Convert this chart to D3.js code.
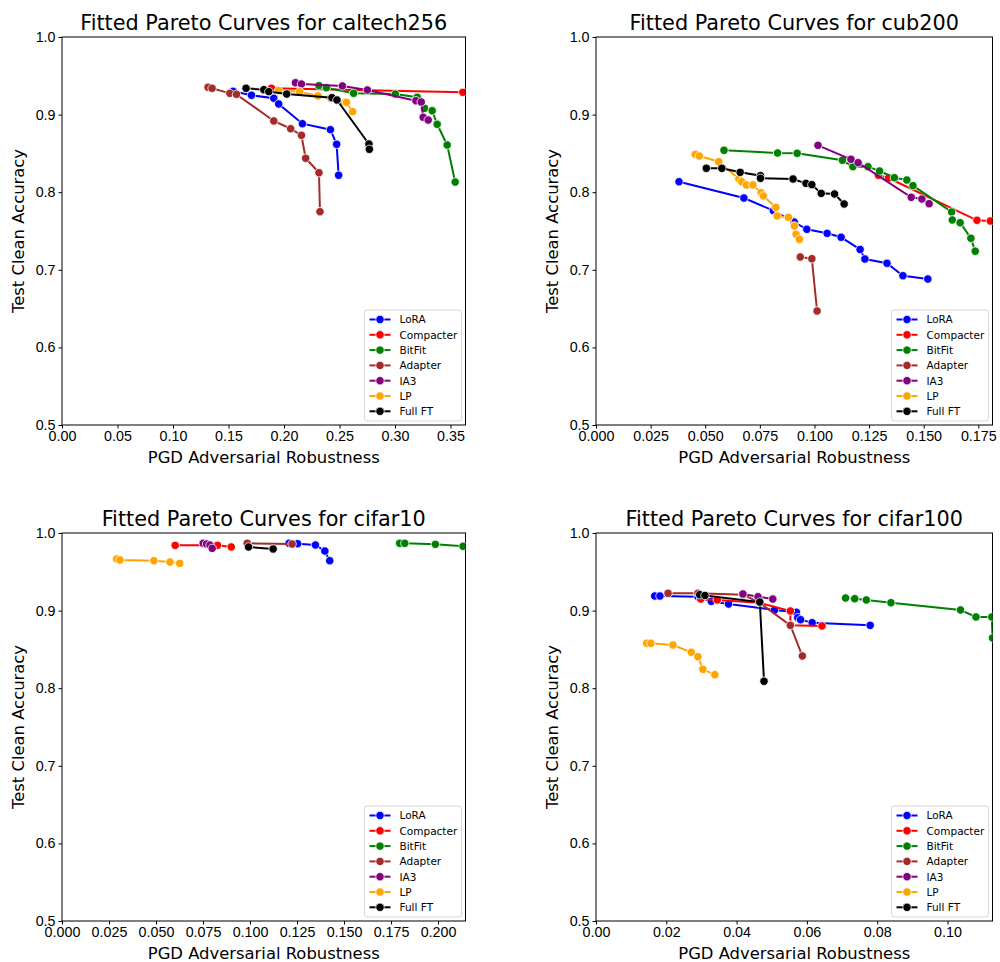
<!DOCTYPE html>
<meta charset="utf-8">
<body style="margin:0;background:#fff">
<script src="https://d3js.org/d3.v7.min.js"></script>
<div id="my_dataviz"></div>
<script>

// method names and colours, in legend order
var methods = ["LoRA", "Compacter", "BitFit", "Adapter", "IA3", "LP", "Full FT"];
var colors  = ["blue", "red", "green", "brown", "purple", "orange", "black"];

// [PGD robustness, clean accuracy]
var caltech256_LoRA = [[.1541,.9300],[.1707,.9249],[.1908,.9210],[.1952,.9137],[.2166,.8883],[.2418,.8806],[.2474,.8617],[.2492,.8218]];
var caltech256_Compacter = [[.1887,.9339],[.3611,.9287]];
var caltech256_BitFit = [[.2315,.9373],[.2382,.9347],[.2627,.9274],[.3003,.9265],[.3200,.9223],[.3266,.9081],[.3335,.9050],[.3380,.8875],[.3470,.8608],[.3542,.8131]];
var caltech256_Adapter = [[.1316,.9352],[.1352,.9339],[.1512,.9274],[.1572,.9261],[.1908,.8918],[.2060,.8818],[.2157,.8733],[.2195,.8437],[.2315,.8251],[.2324,.7749]];
var caltech256_IA3 = [[.2103,.9411],[.2157,.9394],[.2526,.9369],[.2751,.9317],[.3188,.9179],[.3236,.9162],[.3254,.8965],[.3299,.8930]];
var caltech256_LP = [[.1950,.9310],[.2141,.9296],[.2306,.9240],[.2418,.9214],[.2546,.9158],[.2562,.9158],[.2618,.9038]];
var caltech256_FullFT = [[.1658,.9339],[.1818,.9321],[.1863,.9296],[.2024,.9265],[.2432,.9218],[.2477,.9188],[.2765,.8621],[.2769,.8553]];

var cub200_LoRA = [[.0380,.8135],[.0677,.7925],[.0812,.7762],[.0907,.7616],[.0965,.7522],[.1058,.7470],[.1122,.7419],[.1209,.7262],[.1231,.7139],[.1332,.7084],[.1405,.6924],[.1519,.6881]];
var cub200_Compacter = [[.1293,.8218],[.1339,.8183],[.1744,.7638],[.1805,.7629]];
var cub200_BitFit = [[.0586,.8540],[.0831,.8505],[.0921,.8501],[.1128,.8411],[.1176,.8329],[.1245,.8329],[.1298,.8273],[.1366,.8187],[.1423,.8157],[.1451,.8084],[.1628,.7745],[.1631,.7642],[.1667,.7607],[.1716,.7406],[.1736,.7240]];
var cub200_Adapter = [[.0935,.7165],[.0988,.7143],[.1012,.6469]];
var cub200_IA3 = [[.1016,.8604],[.1167,.8424],[.1200,.8380],[.1443,.7934],[.1492,.7912],[.1525,.7852]];
var cub200_LP = [[.0454,.8488],[.0473,.8466],[.0562,.8393],[.0654,.8170],[.0667,.8135],[.0689,.8093],[.0718,.8093],[.0756,.7994],[.0766,.7951],[.0823,.7805],[.0829,.7693],[.0881,.7676],[.0908,.7564],[.0916,.7457],[.0931,.7393]];
var cub200_FullFT = [[.0505,.8308],[.0576,.8308],[.0660,.8256],[.0753,.8213],[.0753,.8179],[.0902,.8170],[.0961,.8114],[.0988,.8097],[.1031,.7985],[.1092,.7977],[.1136,.7848]];

var cifar10_LoRA = [[.1208,.9867],[.1253,.9862],[.1348,.9845],[.1398,.9768],[.1424,.9643]];
var cifar10_Compacter = [[.0602,.9841],[.0827,.9841],[.0900,.9820]];
var cifar10_BitFit = [[.1796,.9867],[.1823,.9867],[.1986,.9854],[.2133,.9829]];
var cifar10_Adapter = [[.0985,.9867],[.1224,.9858]];
var cifar10_IA3 = [[.0751,.9867],[.0769,.9858],[.0787,.9845],[.0799,.9802]];
var cifar10_LP = [[.0291,.9665],[.0308,.9652],[.0489,.9643],[.0574,.9626],[.0626,.9609]];
var cifar10_FullFT = [[.0992,.9820],[.1123,.9794]];

var cifar100_LoRA = [[.0167,.9188],[.0182,.9188],[.0290,.9179],[.0328,.9119],[.0377,.9085],[.0508,.9008],[.0570,.8978],[.0574,.8909],[.0582,.8883],[.0615,.8844],[.0780,.8810]];
var cifar100_Compacter = [[.0298,.9149],[.0345,.9137],[.0464,.9102],[.0553,.8995],[.0553,.8810],[.0643,.8802]];
var cifar100_BitFit = [[.0710,.9162],[.0736,.9153],[.0769,.9137],[.0839,.9102],[.1037,.9008],[.1081,.8918],[.1126,.8918],[.1128,.8647]];
var cifar100_Adapter = [[.0205,.9223],[.0290,.9223],[.0418,.9205],[.0464,.9105],[.0553,.8810],[.0587,.8415]];
var cifar100_IA3 = [[.0418,.9214],[.0461,.9179],[.0503,.9149]];
var cifar100_LP = [[.0144,.8579],[.0156,.8579],[.0219,.8557],[.0271,.8463],[.0290,.8406],[.0304,.8243],[.0338,.8174]];
var cifar100_FullFT = [[.0295,.9205],[.0310,.9195],[.0466,.9110],[.0478,.8089]];

// datasets, x axis upper limits and tick settings
var datasets = ["caltech256", "cub200", "cifar10", "cifar100"];
var xMax = [0.3635, 0.1815, 0.2146, 0.1128];
var xStep = [0.05, 0.025, 0.025, 0.02];
var xFormat = [".2f", ".3f", ".3f", ".2f"];
var yTicks = [0.5, 0.6, 0.7, 0.8, 0.9, 1.0];

var series = [
  [caltech256_LoRA, caltech256_Compacter, caltech256_BitFit, caltech256_Adapter, caltech256_IA3, caltech256_LP, caltech256_FullFT],
  [cub200_LoRA, cub200_Compacter, cub200_BitFit, cub200_Adapter, cub200_IA3, cub200_LP, cub200_FullFT],
  [cifar10_LoRA, cifar10_Compacter, cifar10_BitFit, cifar10_Adapter, cifar10_IA3, cifar10_LP, cifar10_FullFT],
  [cifar100_LoRA, cifar100_Compacter, cifar100_BitFit, cifar100_Adapter, cifar100_IA3, cifar100_LP, cifar100_FullFT]
];

// panel boxes in the figure
var boxes = [
  {left: 62, right: 465.5, top: 37, bottom: 425},
  {left: 596, right: 992.5, top: 37, bottom: 425},
  {left: 62, right: 465.5, top: 533, bottom: 921},
  {left: 596, right: 992.5, top: 533, bottom: 921}
];

var font = "DejaVu Sans, sans-serif";

var svg = d3.select("#my_dataviz")
  .append("svg")
    .attr("width", 1000)
    .attr("height", 962)
    .style("font-family", font);

boxes.forEach(function(b, p) {
  var width = b.right - b.left, height = b.bottom - b.top;
  var g = svg.append("g").attr("transform", "translate(" + b.left + "," + b.top + ")");

  var x = d3.scaleLinear().domain([0, xMax[p]]).range([0, width]);
  var y = d3.scaleLinear().domain([0.5, 1.0]).range([height, 0]);

  g.append("clipPath").attr("id", "clip" + p)
    .append("rect").attr("width", width).attr("height", height);

  // X axis
  var xt = d3.range(0, xMax[p] + 1e-9, xStep[p]);
  var xa = g.append("g")
    .attr("transform", "translate(0," + height + ")")
    .call(d3.axisBottom(x).tickValues(xt).tickFormat(d3.format(xFormat[p])).tickSizeOuter(0).tickSize(3.5).tickPadding(2));
  xa.selectAll("text").style("font-size", "14.3px").attr("fill", "#000");
  xa.select(".domain").remove();

  // Y axis
  var ya = g.append("g")
    .call(d3.axisLeft(y).tickValues(yTicks).tickFormat(d3.format(".1f")).tickSizeOuter(0).tickSize(3.5).tickPadding(3));
  ya.selectAll("text").style("font-size", "14.3px").attr("fill", "#000");
  ya.select(".domain").remove();

  // frame
  g.append("rect")
    .attr("width", width).attr("height", height)
    .attr("fill", "none").attr("stroke", "#000").attr("stroke-width", 1);

  // lines and markers
  var plot = g.append("g").attr("clip-path", "url(#clip" + p + ")");
  var line = d3.line().x(function(d) { return x(d[0]); }).y(function(d) { return y(d[1]); });
  series[p].forEach(function(pts, i) {
    plot.append("path")
      .datum(pts)
      .attr("d", line)
      .attr("fill", "none")
      .attr("stroke", colors[i])
      .attr("stroke-width", 2);
    plot.selectAll(".m" + i)
      .data(pts)
      .enter()
      .append("circle")
        .attr("cx", function(d) { return x(d[0]); })
        .attr("cy", function(d) { return y(d[1]); })
        .attr("r", 4.2)
        .attr("fill", colors[i])
        .attr("stroke", "#fff")
        .attr("stroke-width", 0.8);
  });

  // title and axis labels
  g.append("text")
    .attr("x", width / 2).attr("y", -7)
    .attr("text-anchor", "middle")
    .style("font-size", "20.8px")
    .text("Fitted Pareto Curves for " + datasets[p]);
  g.append("text")
    .attr("x", width / 2).attr("y", height + 38)
    .attr("text-anchor", "middle")
    .style("font-size", "16.4px")
    .text("PGD Adversarial Robustness");
  g.append("text")
    .attr("transform", "rotate(-90)")
    .attr("x", -height / 2).attr("y", -38)
    .attr("text-anchor", "middle")
    .style("font-size", "16.4px")
    .text("Test Clean Accuracy");

  // legend, lower right
  var lw = 97, lh = 111;
  var lg = g.append("g").attr("transform", "translate(" + (width - 4 - lw) + "," + (height - 4 - lh) + ")");
  lg.append("rect")
    .attr("width", lw).attr("height", lh).attr("rx", 2.5)
    .attr("fill", "#fff").attr("fill-opacity", 0.8)
    .attr("stroke", "#d6d6d6").attr("stroke-width", 1);
  methods.forEach(function(m, i) {
    var yy = 9.5 + i * 15.3;
    lg.append("line")
      .attr("x1", 5).attr("x2", 26).attr("y1", yy).attr("y2", yy)
      .attr("stroke", colors[i]).attr("stroke-width", 2);
    lg.append("circle")
      .attr("cx", 15.5).attr("cy", yy).attr("r", 4.2)
      .attr("fill", colors[i]).attr("stroke", "#fff").attr("stroke-width", 0.8);
    lg.append("text")
      .attr("x", 35).attr("y", yy + 3.8)
      .style("font-size", "10.5px")
      .text(m);
  });
});

</script>
</body>
